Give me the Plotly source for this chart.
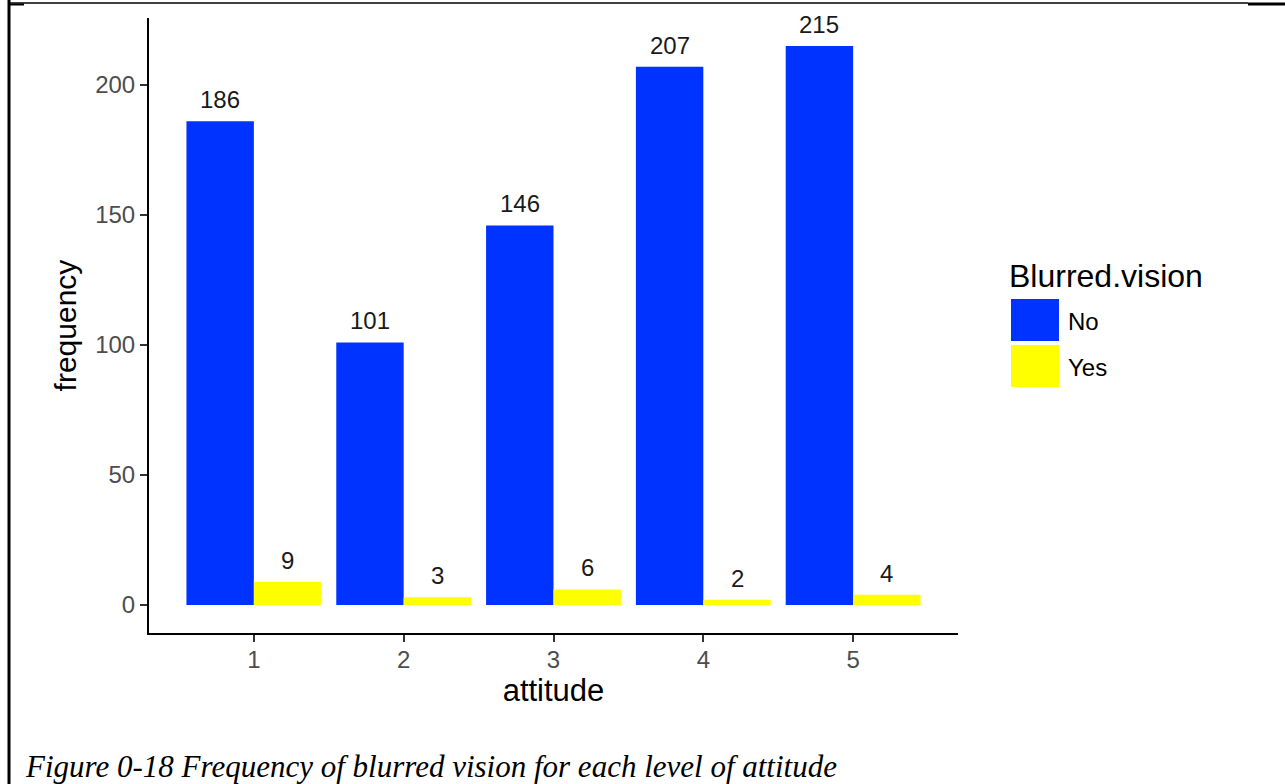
import plotly.graph_objects as go

# 数据：每个 attitude 等级下视力模糊 (No / Yes) 的频数
attitude_levels = [1, 2, 3, 4, 5]
freq_no = [186, 101, 146, 207, 215]
freq_yes = [9, 3, 6, 2, 4]
series_names = ["No", "Yes"]
series_colors = ["#0033ff", "#ffff00"]
legend_title = "Blurred.vision"
caption = "Figure 0-18 Frequency of blurred vision for each level of attitude"

W, H = 1285, 784
L, R, T, B = 149, 327, 18, 151
BAR_W = 0.45  # 每根柱子的宽度 (0.9 / 2)


def px_x(px):
    return (px - L) / (W - L - R)


def px_y(py):
    return (H - B - py) / (H - T - B)


fig = go.Figure()
for name, vals, color in zip(series_names, [freq_no, freq_yes], series_colors):
    fig.add_trace(go.Bar(
        x=attitude_levels, y=vals, name=name,
        marker=dict(color=color, line=dict(width=0)),
        showlegend=False,
    ))

# 柱顶数值标签
for sign, vals in [(-1, freq_no), (1, freq_yes)]:
    for lvl, v in zip(attitude_levels, vals):
        fig.add_annotation(
            x=lvl + sign * BAR_W / 2, y=v, text=str(v), showarrow=False,
            yanchor="bottom", yshift=6,
            font=dict(size=24, color="#1a1a1a", family="Liberation Sans, Arial"),
        )

# 手工图例（ggplot 风格的大色块）
fig.add_annotation(
    x=px_x(1007), y=px_y(276), xref="paper", yref="paper", text=legend_title,
    showarrow=False, xanchor="left", yanchor="middle",
    font=dict(size=32, color="black"),
)
key_tops = [299, 345]
for name, color, top in zip(series_names, series_colors, key_tops):
    fig.add_shape(
        type="rect", xref="paper", yref="paper",
        x0=px_x(1011), x1=px_x(1059), y0=px_y(top), y1=px_y(top + 42),
        fillcolor=color, line=dict(width=0),
    )
    fig.add_annotation(
        x=px_x(1066), y=px_y(top + 22), xref="paper", yref="paper", text=name,
        showarrow=False, xanchor="left", yanchor="middle",
        font=dict(size=24, color="black"),
    )

# 文档表格边框
border = dict(color="black")
fig.add_shape(type="line", xref="paper", yref="paper",
              x0=px_x(9), x1=px_x(9), y0=px_y(0), y1=px_y(H),
              line=dict(width=3, **border))
fig.add_shape(type="line", xref="paper", yref="paper",
              x0=px_x(9), x1=px_x(1248), y0=px_y(3), y1=px_y(3),
              line=dict(width=1.5, **border))
fig.add_shape(type="line", xref="paper", yref="paper",
              x0=px_x(9), x1=px_x(24), y0=px_y(4.5), y1=px_y(4.5),
              line=dict(width=2, **border))
fig.add_shape(type="line", xref="paper", yref="paper",
              x0=px_x(1248), x1=px_x(W), y0=px_y(4), y1=px_y(4),
              line=dict(width=3, **border))

# 图注
fig.add_annotation(
    x=px_x(23), y=px_y(767), xref="paper", yref="paper",
    text=f"<i>{caption}</i>", showarrow=False, xanchor="left", yanchor="middle",
    font=dict(size=31, color="black", family="Liberation Serif, Times New Roman"),
)

fig.update_layout(
    width=W, height=H,
    margin=dict(l=L, r=R, t=T, b=B),
    paper_bgcolor="white", plot_bgcolor="white",
    barmode="group", bargap=0.1, bargroupgap=0,
    font=dict(family="Liberation Sans, Arial", color="black"),
    showlegend=False,
)
fig.update_xaxes(
    range=[0.3, 5.7], tickvals=attitude_levels, ticktext=[str(v) for v in attitude_levels],
    showline=True, linecolor="black", linewidth=2,
    ticks="outside", ticklen=7, tickwidth=2, tickcolor="#333333",
    tickfont=dict(size=24, color="#4d4d4d"), ticklabelstandoff=-3,
    showgrid=False, zeroline=False,
    title=dict(text="attitude", font=dict(size=31, color="black"), standoff=8),
)
fig.update_yaxes(
    range=[-10.75, 225.75], tickvals=[0, 50, 100, 150, 200],
    showline=True, linecolor="black", linewidth=2,
    ticks="outside", ticklen=7, tickwidth=2, tickcolor="#333333",
    tickfont=dict(size=24, color="#4d4d4d"),
    showgrid=False, zeroline=False,
    title=dict(text="frequency", font=dict(size=30, color="black"), standoff=10),
)

# 页面默认有 8px 的 body 边距，去掉以便与原图像素对齐
fig.write_html(
    "out.html",
    config={"displayModeBar": False},
    post_script="document.body.style.margin='0';",
)
